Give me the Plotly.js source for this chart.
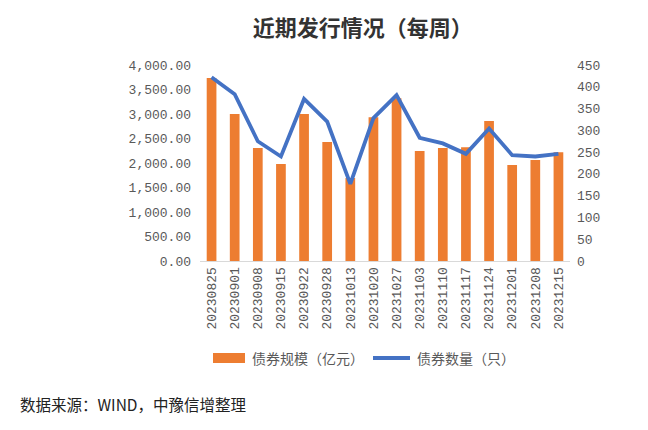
<!DOCTYPE html>
<html><head><meta charset="utf-8">
<script src="https://cdn.plot.ly/plotly-3.0.1.min.js"></script>
<style>html,body{margin:0;padding:0;background:#fff}#chart{width:648px;height:430px}</style>
</head><body><div id="chart"></div>
<script>
const dates = ["20230825","20230901","20230908","20230915","20230922","20230928","20231013","20231020","20231027","20231103","20231110","20231117","20231124","20231201","20231208","20231215"];
const scale = [3735,3000,2306,1980,3000,2429,1694,2933,3320,2245,2306,2320,2857,1959,2061,2218];
const count = [422,383,275,240,372,320,177,328,381,283,270,246,304,243,240,246];
const leftTicks = [0,500,1000,1500,2000,2500,3000,3500,4000];
const rightTicks = [0,50,100,150,200,250,300,350,400,450];
const nameScale = "债券规模（亿元）";
const nameCount = "债券数量（只）";
const titleText = "近期发行情况（每周）";
const sourceText = "数据来源：WIND，中豫信增整理";

const mono = "Liberation Mono, DejaVu Sans Mono, monospace";
const cjk = "Noto Sans CJK SC, sans-serif";
const orange = "#ED7D31", blue = "#4472C4";

// plot area in px: x 200..570, y 65..261
const W = 370, H = 196, L = 200, B = 261;
const px = x => (x - L) / W;
const py = y => (B - y) / H;

const traces = [
  {type:"bar", x:dates, y:scale, name:nameScale, marker:{color:orange}, width:0.42},
  {type:"scatter", mode:"lines", x:dates, y:count, name:nameCount, yaxis:"y2",
   line:{color:blue, width:3.8}}
];
const layout = {
  width:648, height:430,
  margin:{l:200, r:78, t:65, b:169, pad:0},
  paper_bgcolor:"#fff", plot_bgcolor:"#fff",
  title:{text:titleText, x:0.56, xanchor:"center", y:0.935, yanchor:"middle",
         font:{family:cjk, size:22, color:"#333333", weight:"bold"}},
  showlegend:false,
  xaxis:{type:"category", tickangle:-90, tickfont:{family:mono, size:13, color:"#595959"},
         showline:true, linecolor:"#d9d9d9", linewidth:1, ticks:"", showgrid:false, zeroline:false},
  yaxis:{range:[0,4000], tickvals:leftTicks, ticktext:leftTicks.map(v=>v.toLocaleString("en-US",{minimumFractionDigits:2})),
         tickfont:{family:mono, size:13, color:"#595959"}, showgrid:false, zeroline:false, showline:false, ticks:"",
         ticklabelstandoff:8},
  yaxis2:{range:[0,450], tickvals:rightTicks, overlaying:"y", side:"right",
          tickfont:{family:mono, size:13, color:"#595959"}, showgrid:false, zeroline:false, showline:false, ticks:"",
          ticklabelstandoff:6},
  shapes:[
    {type:"rect", xref:"paper", yref:"paper", x0:px(213), x1:px(245), y0:py(363), y1:py(353),
     fillcolor:orange, line:{width:0}},
    {type:"line", xref:"paper", yref:"paper", x0:px(373), x1:px(410), y0:py(358), y1:py(358),
     line:{color:blue, width:3.8}}
  ],
  annotations:[
    {text:nameScale, xref:"paper", yref:"paper", x:px(250), xanchor:"left", y:py(358), yanchor:"middle",
     showarrow:false, font:{family:cjk, size:14, color:"#595959"}},
    {text:nameCount, xref:"paper", yref:"paper", x:px(415), xanchor:"left", y:py(358), yanchor:"middle",
     showarrow:false, font:{family:cjk, size:14, color:"#595959"}},
    {text:sourceText, xref:"paper", yref:"paper", x:px(18), xanchor:"left", y:py(404), yanchor:"middle",
     showarrow:false, font:{family:cjk, size:15.5, color:"#222"}}
  ]
};
Plotly.newPlot("chart", traces, layout, {displayModeBar:false, staticPlot:true});
</script></body></html>
